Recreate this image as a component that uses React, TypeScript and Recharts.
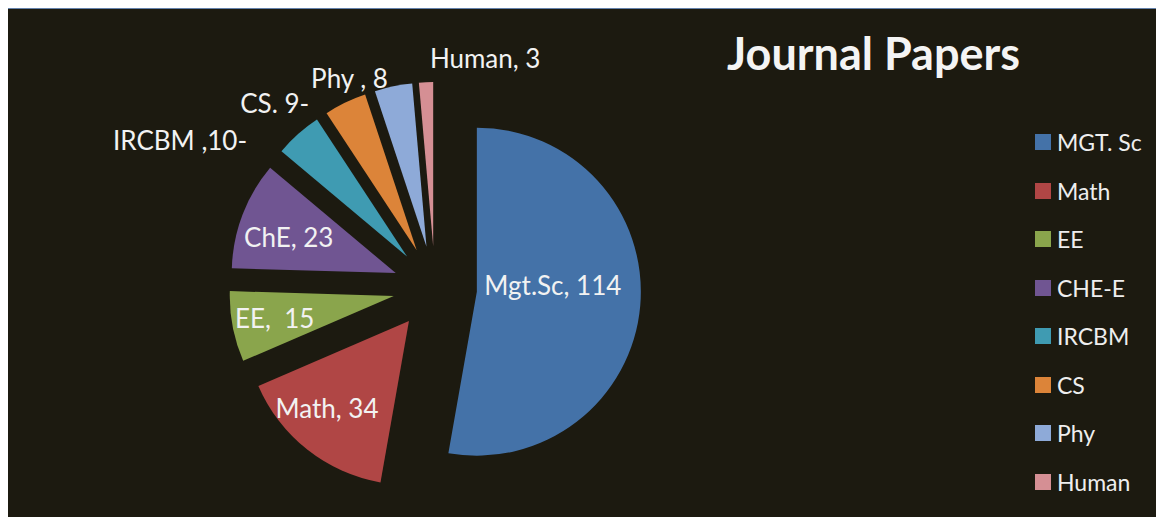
import { PieChart, Pie, Cell, Legend } from 'recharts'

const categories = ['MGT. Sc', 'Math', 'EE', 'CHE-E', 'IRCBM', 'CS', 'Phy', 'Human']
const papers = [114, 34, 15, 23, 10, 9, 8, 3]
const sliceLabels = ['Mgt.Sc, 114', 'Math, 34', 'EE,  15', 'ChE, 23', 'IRCBM ,10-', 'CS. 9-', 'Phy , 8', 'Human, 3']

const colors = ['#4472a8', '#b04645', '#8aa54c', '#705592', '#3f9bb2', '#dc8439', '#8eaad8', '#d58f94']
// label placement relative to the tip of its (exploded) slice
const labelNudge = [
  [76, -7],
  [-82, 87],
  [-119, 22],
  [-107, -36],
  [-227, -117],
  [-142, -147],
  [-77, -169],
  [52, -188],
]

const W = 1164
const H = 525
const CX = 435
const CY = 288
const R = 164
const EXPLODE = 42
const FONT = 'Lato, "Open Sans", sans-serif'

const data = categories.map((name, i) => ({ name, value: papers[i] }))
const total = papers.reduce((a, b) => a + b, 0)

// every slice is pushed out along its own middle angle (clockwise from 12 o'clock)
const offsets = papers.map((v, i) => {
  const before = papers.slice(0, i).reduce((a, b) => a + b, 0)
  const mid = ((before + v / 2) / total) * 2 * Math.PI
  return { dx: EXPLODE * Math.sin(mid), dy: -EXPLODE * Math.cos(mid) }
})

const makeLabel = (k: number) => (props: any) => {
  if (props.index !== k) return null
  return (
    <text
      x={props.cx + labelNudge[k][0]}
      y={props.cy + labelNudge[k][1]}
      textAnchor="middle"
      dominantBaseline="central"
      fill="#f2f2f2"
      fontSize={26}
      fontFamily={FONT}
      style={{ whiteSpace: 'pre' }}
    >
      {sliceLabels[k]}
    </text>
  )
}

const renderLegend = () => (
  <div style={{ fontFamily: FONT }}>
    {categories.map((c, i) => (
      <div key={c} style={{ display: 'flex', alignItems: 'center', height: 48.5 }}>
        <span style={{ width: 16, height: 16, background: colors[i], marginRight: 6, display: 'inline-block' }} />
        <span style={{ color: '#eeeeee', fontSize: 23 }}>{c}</span>
      </div>
    ))}
  </div>
)

export default function App() {
  return (
    <div style={{ position: 'relative', margin: -8, width: W, height: H, background: '#fff', overflow: 'hidden' }}>
      <div
        style={{
          position: 'absolute',
          left: 4,
          top: 6,
          right: 0,
          bottom: 0,
          background: '#1c1a10',
          borderLeft: '3px solid #6482ab',
          borderTop: '3px solid #6482ab',
        }}
      />
      <div
        style={{
          position: 'absolute',
          left: 727,
          top: 31,
          color: '#f4f4f4',
          fontFamily: FONT,
          fontWeight: 700,
          fontSize: 45,
          lineHeight: 1,
          whiteSpace: 'nowrap',
        }}
      >
        Journal Papers
      </div>
      <div style={{ position: 'absolute', left: 0, top: 0 }}>
        <PieChart width={W} height={H} margin={{ top: 0, right: 0, bottom: 0, left: 0 }}>
          {data.map((_, k) => (
            <Pie
              key={k}
              data={data}
              dataKey="value"
              nameKey="name"
              cx={CX + offsets[k].dx}
              cy={CY + offsets[k].dy}
              outerRadius={R}
              startAngle={90}
              endAngle={-270}
              stroke="none"
              labelLine={false}
              label={makeLabel(k)}
              isAnimationActive={false}
            >
              {data.map((d, i) => (
                <Cell key={d.name} fill={i === k ? colors[i] : 'transparent'} stroke="none" />
              ))}
            </Pie>
          ))}
          <Legend
            layout="vertical"
            align="right"
            verticalAlign="top"
            content={renderLegend}
            wrapperStyle={{ left: 1035, top: 118, width: 125 }}
          />
        </PieChart>
      </div>
    </div>
  )
}
